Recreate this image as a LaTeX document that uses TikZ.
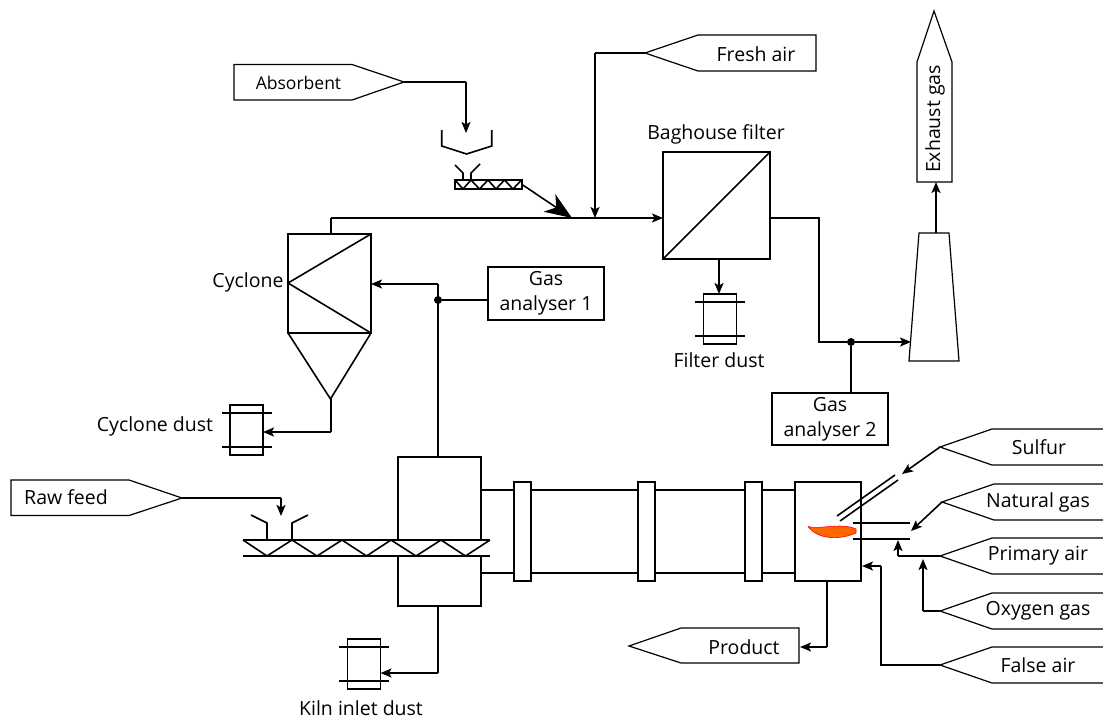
\documentclass[tikz,border=0pt]{standalone}
\usepackage{fontspec}
\setmainfont{Open Sans}
\usetikzlibrary{arrows.meta}
\tikzset{
  ln/.style={line width=1.6pt,line join=miter},
  thin line/.style={line width=1.2pt},
  flow/.style={ln,-{Stealth[length=11pt,width=9pt,inset=2.5pt]}},
  bigflow/.style={ln,-{Stealth[length=27pt,width=21pt,inset=8pt]}},
  unit/.style={draw,line width=1.6pt,inner sep=0pt,outer sep=0pt},
  lab/.style={font=\fontsize{19.5}{22}\selectfont,inner sep=0pt,align=center},
  dot/.style={circle,fill=black,inner sep=0pt,minimum size=8pt},
  tagline/.style={line width=1.2pt},
}
\newcommand{\rtag}[4]{% name, tip x, y, right end: open on the right
  \coordinate (#1) at (#2,#3);
  \draw[tagline] (#4,#3-18) -- (#2+52,#3-18) -- (#1) -- (#2+52,#3+18) -- (#4,#3+18);}
\newcommand{\binbox}[3]{% name, cx, cy
  \node[unit,minimum width=33pt,minimum height=50pt] (#1) at (#2,#3) {};
  \draw[ln] (#2-25,#3-17) -- (#2+25,#3-17) (#2-25,#3+17) -- (#2+25,#3+17);}
\begin{document}
\begin{tikzpicture}[x=1pt,y=-1pt]
\useasboundingbox (0,0) rectangle (1103,718);

% --- open-ended tags on the right
\rtag{sulfur}{940}{447}{1103}
\rtag{natgas}{942}{502}{1103}
\rtag{primair}{940}{556}{1103}
\rtag{oxygas}{940}{611}{1103}
\rtag{falseair}{940}{665}{1103}
\node[lab] (tsulfur) at (1039,447) {Sulfur};
\node[lab] (tnatgas) at (1038,502) {Natural gas};
\node[lab] (tprim) at (1038,556) {Primary air};
\node[lab] (toxy) at (1038,611) {Oxygen gas};
\node[lab] (tfalse) at (1038,665) {False air};

% --- closed tags
\coordinate (absorb) at (404,82);
\draw[tagline] (absorb) -- (352,64.5) -- (234,64.5) -- (234,100) -- (352,100) -- cycle;
\node[lab,font=\fontsize{17.5}{22}\selectfont] (tabsorb) at (298.5,83) {Absorbent};

\coordinate (fresh) at (645,53);
\draw[tagline] (fresh) -- (698,35) -- (816,35) -- (816,71) -- (698,71) -- cycle;
\node[lab] (tfresh) at (756,54) {Fresh air};

\coordinate (raw) at (182,498);
\draw[tagline] (raw) -- (129,480) -- (11,480) -- (11,515.5) -- (129,515.5) -- cycle;
\node[lab] (traw) at (66,497) {Raw feed};

\coordinate (prodtag) at (800,647);
\draw[tagline] (629,646) -- (681,628) -- (799,628) -- (799,663) -- (681,663) -- cycle;
\node[lab] (tprod) at (744,647) {Product};

\coordinate (exhaust) at (936,182);
\draw[tagline] (934,11) -- (952,62) -- (952,182) -- (917,182) -- (917,62) -- cycle;
\node[lab,rotate=90] (texh) at (935,119) {Exhaust gas};

% --- stack
\coordinate (stackt) at (936,233);
\coordinate (stackl) at (911,342);
\draw[thin line] (919,233) -- (949,233) -- (959,361) -- (909,361) -- cycle;
\draw[flow] (stackt) -- (exhaust);

% --- baghouse filter
\node[unit,minimum width=107pt,minimum height=107pt] (bag) at (716.5,205.5) {};
\draw[ln] (bag.south west) -- (bag.north east);
\node[lab] (tbag) at (716,134) {Baghouse filter};
\binbox{fdust}{720}{319}
\node[lab] (tfdust) at (719,360) {Filter dust};
\coordinate (bagdown) at (719,259);
\coordinate (fdusttop) at (719,294);
\draw[flow] (bagdown) -- (fdusttop);

% --- gas analysers
\node[unit,lab,minimum width=116pt,minimum height=53pt] (ga1) at (546,293.5) {Gas\\[3pt]analyser 1};
\node[unit,lab,minimum width=116pt,minimum height=52pt] (ga2) at (830,419) {Gas\\[3pt]analyser 2};

% --- outlet line to stack
\coordinate (bagout) at (769,218);
\node[dot] (j2) at (851,342) {};
\draw[ln] (bagout) -- (819,218) -- (819,342) -- (j2);
\draw[flow] (j2) -- (stackl);
\draw[ln] (j2) -- (ga2.north -| j2);

% --- cyclone
\coordinate (cyne) at (371,234);
\coordinate (cynw) at (288,234);
\coordinate (cyse) at (371,333);
\coordinate (cysw) at (288,333);
\coordinate (cyw) at (288,283);
\coordinate (cyapex) at (330.5,399);
\coordinate (cye) at (371,284);
\coordinate (cytop) at (331,234);
\coordinate (cyout) at (331,432);
\draw[ln] (cynw) -- (cyne) -- (cyse) -- (cysw) -- cycle;
\draw[ln] (cyne) -- (cyw) -- (cyse);
\draw[ln] (cysw) -- (cyapex) -- (cyse);
\node[lab] (tcy) at (248,282) {Cyclone};
\binbox{cdust}{246.5}{430}
\node[lab] (tcdust) at (155,426) {Cyclone dust};
\draw[ln] (cyapex) ++(0.5,0) -- (cyout);
\draw[flow] (cyout) -- (cyout -| cdust.east);

% --- main duct
\coordinate (ductm) at (331,218);
\coordinate (bagin) at (663,218);
\coordinate (ducta) at (572,218);
\coordinate (ductb) at (595,218);
\draw[ln] (cytop) -- (ductm);
\draw[flow] (ductm) -- (bagin);

% --- absorbent dosing
\coordinate (hopin) at (466,133);
\draw[ln] (absorb) -- (466,82);
\draw[flow] (466,82) -- (hopin);
\draw[ln] (441.7,130) -- (441.7,146) -- (466.6,154) -- (491.7,146) -- (491.7,130);
\draw[ln] (455,165) -- (463,173) -- (463,180);
\draw[ln] (480,164) -- (471,173) -- (471,180);
\node[unit,minimum width=67pt,minimum height=9pt] (screw1) at (488.5,184.5) {};
\draw[ln] (455,180) -- (463,189) -- (471,180) -- (479.5,189) -- (488,180) -- (496,189) -- (504.5,180) -- (513,189) -- (521.5,180);
\draw[bigflow] (screw1.east) -- (ducta);

% --- fresh air
\draw[ln] (fresh) -- (595,53);
\draw[flow] (595,53) -- (ductb);

% --- kiln inlet and gas analyser 1
\node[dot] (j1) at (438,300) {};
\coordinate (kilntop) at (438,457);
\coordinate (kilnbot) at (438,606);
\coordinate (cyinl) at (438,284);
\draw[ln] (kilntop) -- (cyinl);
\draw[flow] (cyinl) -- (cye);
\draw[ln] (j1) -- (ga1.west |- j1);

% --- raw feed screw
\draw[ln] (raw) -- (281,498);
\draw[flow] (281,498) -- (281,516);
\draw[ln] (251,515) -- (267,523) -- (267,540);
\draw[ln] (308,515) -- (292,523) -- (292,540);
\draw[ln] (243,540) -- (490,540) (243,556) -- (490,556);
\draw[ln] (243,540) -- (267,556) -- (292,540) -- (317,556) -- (342,540) -- (366.5,556) -- (391,540) -- (416,556) -- (441,540) -- (465.5,556) -- (490,540);

% --- kiln inlet housing
\draw[ln] (398,540) -- (398,457) -- (481,457) -- (481,540);
\draw[ln] (398,556) -- (398,606) -- (481,606) -- (481,556);
\draw[ln] (482,490) -- (795,490) (482,573) -- (795,573);
\foreach \n/\cx in {a/522.5,b/646.5,c/753.5}{
  \node[unit,fill=white,minimum width=17pt,minimum height=99pt] (ring\n) at (\cx,531.5) {};
}

% --- kiln inlet dust
\binbox{kdust}{364}{664}
\node[lab] (tkdust) at (361,708) {Kiln inlet dust};
\draw[ln] (kilnbot) -- (438,673);
\draw[flow] (438,673) -- (438,673 -| kdust.east);

% --- burner hood
\node[unit,minimum width=66pt,minimum height=99pt] (hood) at (828,531.5) {};
\draw[ln] (837,516) -- (895,475);
\draw[ln] (840,521) -- (898,480);
\draw[ln] (853,523) -- (910,523) (853,539) -- (910,539);
\draw[draw=red,line width=0.6pt,fill=orange!80!red] (808,526.5) .. controls (820,530) and (840,522) .. (856,529) -- (856,533) .. controls (840,540) and (818,540) .. (808,526.5);

% --- burner feeds
\coordinate (sulfin) at (902,474);
\coordinate (natin) at (911,531);
\coordinate (primin) at (898,540);
\coordinate (oxyin) at (923,559);
\coordinate (falsein) at (862,566);
\draw[flow] (sulfur) -- (sulfin);
\draw[flow] (natgas) -- (natin);
\draw[ln] (primair) -- (898,556);
\draw[flow] (898,556) -- (primin);
\draw[ln] (oxygas) -- (923,611);
\draw[flow] (923,611) -- (oxyin);
\draw[ln] (falseair) -- (881,665) -- (881,566);
\draw[flow] (881,566) -- (falsein);

% --- product
\coordinate (hoodbot) at (827,581);
\draw[ln] (hoodbot) -- (827,647);
\draw[flow] (827,647) -- (prodtag);
\end{tikzpicture}
\end{document}
